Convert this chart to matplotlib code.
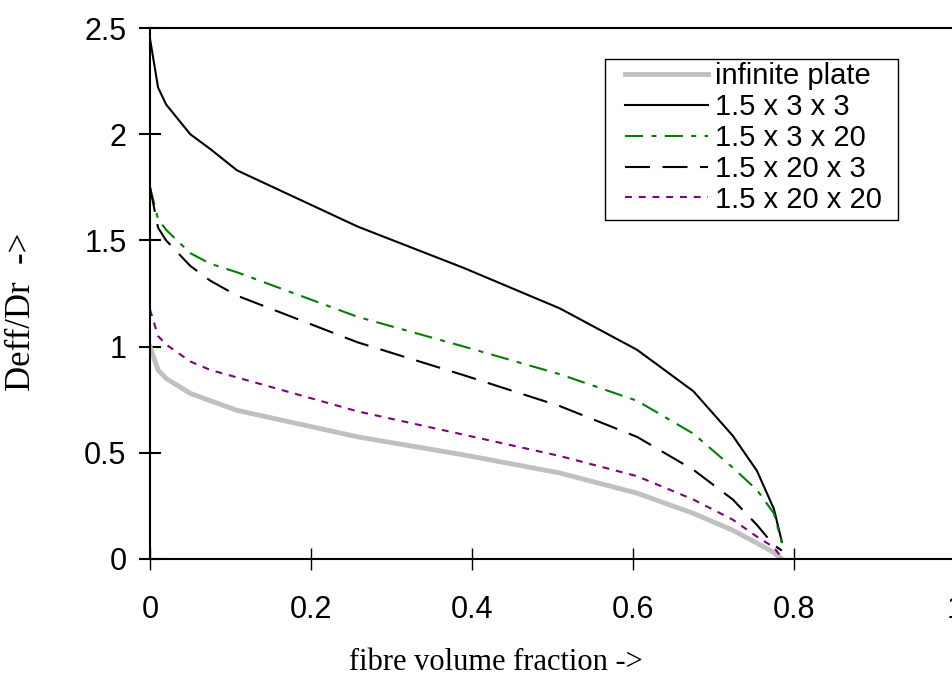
import numpy as np
import matplotlib.pyplot as plt
from matplotlib.patches import Rectangle

# fibre volume fraction (x) and Deff/Dr for each cell geometry
vf = [0, 0.01, 0.02, 0.05, 0.075, 0.108, 0.258, 0.39, 0.509, 0.605, 0.675, 0.724, 0.754, 0.775, 0.785]

infinite_plate = [1.0, 0.89, 0.85, 0.78, 0.745, 0.70, 0.575, 0.49, 0.405, 0.31, 0.215, 0.135, 0.075, 0.03, 0.0]
c_3_3 = [2.45, 2.22, 2.14, 2.0, 1.93, 1.83, 1.565, 1.37, 1.18, 0.985, 0.79, 0.58, 0.415, 0.236, 0.08]
c_3_20 = [1.75, 1.60, 1.55, 1.44, 1.39, 1.35, 1.14, 1.0, 0.87, 0.745, 0.59, 0.43, 0.325, 0.215, 0.075]
c_20_3 = [1.75, 1.56, 1.50, 1.38, 1.31, 1.24, 1.02, 0.865, 0.72, 0.575, 0.42, 0.28, 0.16, 0.065, 0.04]
c_20_20 = [1.175, 1.05, 1.01, 0.93, 0.89, 0.855, 0.695, 0.585, 0.485, 0.39, 0.28, 0.185, 0.105, 0.055, 0.005]

labels = ['infinite plate', '1.5 x 3 x 3', '1.5 x 3 x 20', '1.5 x 20 x 3', '1.5 x 20 x 20']

xticks = [0, 0.2, 0.4, 0.6, 0.8, 1.0]
xticklabels = ['0', '0.2', '0.4', '0.6', '0.8', '1']
yticks = [0, 0.5, 1, 1.5, 2, 2.5]
yticklabels = ['0', '0.5', '1', '1.5', '2', '2.5']

plt.rcParams['font.family'] = 'Liberation Sans'

W, H = 953, 679
fig = plt.figure(figsize=(W / 100, H / 100), dpi=100)
ax = fig.add_axes([150 / W, 120 / H, 805 / W, 531 / H])

ax.plot(vf, infinite_plate, color='#c0c0c0', lw=3.5, label=labels[0])
ax.plot(vf, c_3_3, color='black', lw=1.5, label=labels[1])
ax.plot(vf, c_3_20, color='green', lw=1.5, dashes=(8.7, 4, 2.4, 4), label=labels[2])
ax.plot(vf, c_20_3, color='black', lw=1.5, dashes=(12, 6), label=labels[3])
ax.plot(vf, c_20_20, color='purple', lw=1.5, dashes=(3.3, 3.3), label=labels[4])

ax.set_xlim(0, 1)
ax.set_ylim(0, 2.5)
ax.set_xticks(xticks)
ax.set_xticklabels(xticklabels)
ax.set_yticks(yticks)
ax.set_yticklabels(yticklabels)
ax.tick_params(axis='both', direction='inout', length=16, labelsize=22)
ax.tick_params(axis='x', width=1, pad=18)
ax.tick_params(axis='y', width=1.5, pad=9)
for s in ax.spines.values():
    s.set_linewidth(1.5)

# legend box drawn by hand so the padding matches
def px_to_ax(x, y):
    return (x - 150) / 805, (559 - y) / 531

x0, y0 = px_to_ax(605, 220)
x1, y1 = px_to_ax(898, 59)
ax.add_patch(Rectangle((x0, y0), x1 - x0, y1 - y0, transform=ax.transAxes,
                       facecolor='white', edgecolor='black', lw=1, zorder=4))
ax.legend(loc='upper left', bbox_to_anchor=px_to_ax(625, 62), borderaxespad=0,
          fontsize=21, labelspacing=0.1, handlelength=2.85, handletextpad=0.25,
          borderpad=0, frameon=False).set_zorder(5)

fig.text(496 / W, 1 - 663 / H, 'fibre volume fraction ->', family='Liberation Serif',
         fontsize=22, ha='center', va='center')
fig.text(22 / W, 1 - 312 / H, 'Deff/Dr  ->', family='Liberation Serif',
         fontsize=25, rotation=90, ha='center', va='center')

fig.savefig('out.png', dpi=100)
